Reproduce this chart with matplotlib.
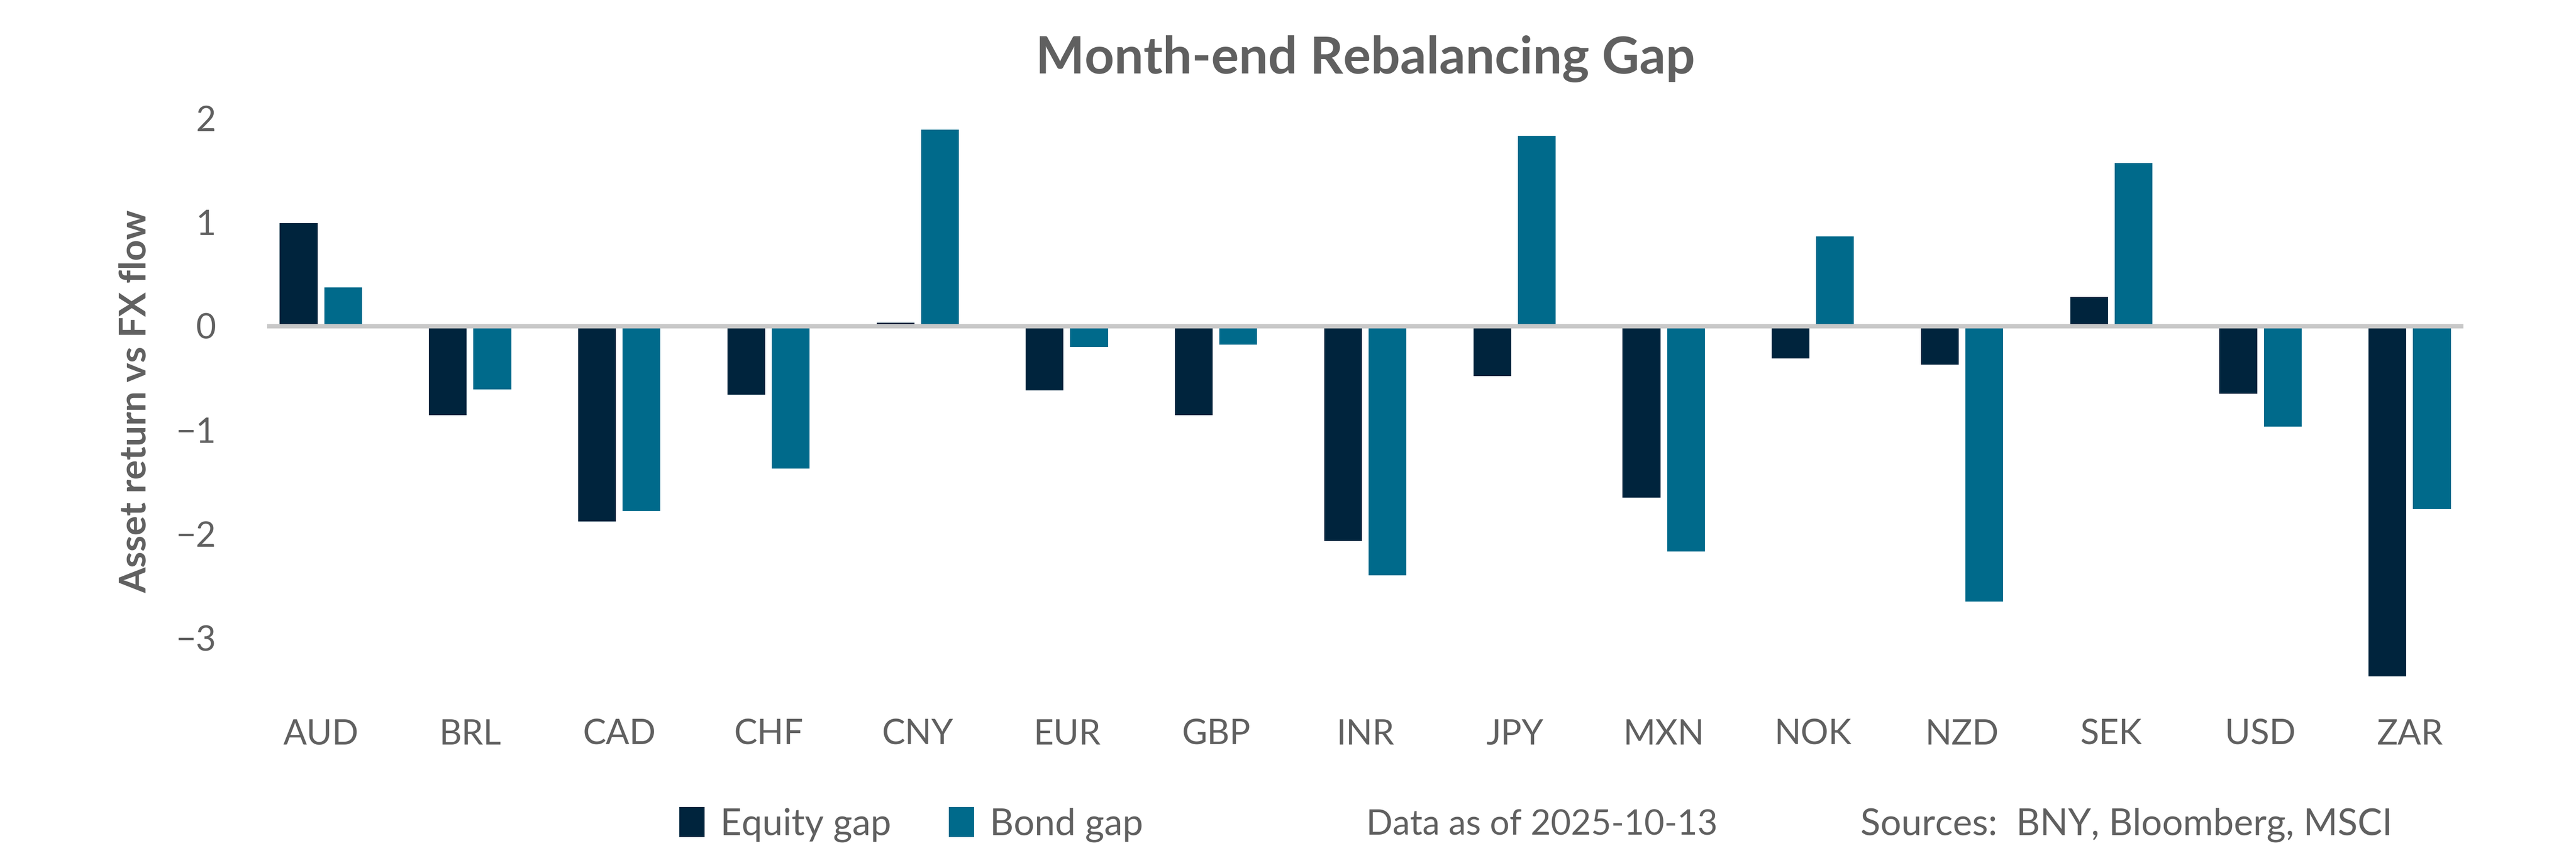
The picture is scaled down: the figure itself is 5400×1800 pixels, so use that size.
import numpy as np
import matplotlib
matplotlib.use("Agg")
import matplotlib.pyplot as plt

CURRENCIES = ["AUD", "BRL", "CAD", "CHF", "CNY", "EUR", "GBP", "INR",
              "JPY", "MXN", "NOK", "NZD", "SEK", "USD", "ZAR"]
EQUITY_GAP = [0.99, -0.86, -1.88, -0.66, 0.03, -0.62, -0.86, -2.07,
              -0.48, -1.65, -0.31, -0.37, 0.28, -0.65, -3.37]
BOND_GAP = [0.37, -0.61, -1.78, -1.37, 1.89, -0.20, -0.18, -2.40,
            1.83, -2.17, 0.86, -2.65, 1.57, -0.97, -1.76]
Y_TICKS = [-3, -2, -1, 0, 1, 2]

EQUITY_COLOR = "#00243D"
BOND_COLOR = "#006A8B"
TEXT_COLOR = "#606060"
ZERO_COLOR = "#C8C8C8"

plt.rcParams["font.family"] = ["Lato", "DejaVu Sans"]

fig = plt.figure(figsize=(18, 6), dpi=300)
ax = fig.add_axes([0.1037, 0.1961, 0.8526, 0.6722])

x = np.arange(len(CURRENCIES))
w = 0.253
off = 0.149
b1 = ax.bar(x - off, EQUITY_GAP, width=w, color=EQUITY_COLOR, label="Equity gap", zorder=2)
b2 = ax.bar(x + off, BOND_GAP, width=w, color=BOND_COLOR, label="Bond gap", zorder=2)
ax.axhline(0, color=ZERO_COLOR, lw=2.2, zorder=3)

ax.set_xlim(-0.36, len(CURRENCIES) - 1 + 0.36)
ax.set_ylim(-3.5, 2.05)
ax.set_xticks(x)
ax.set_xticklabels(CURRENCIES)
ax.set_yticks(Y_TICKS)
ax.set_yticklabels([str(t).replace("-", "\u2212") for t in Y_TICKS])
ax.tick_params(axis="x", length=0, pad=14.6, labelsize=17.5, labelcolor=TEXT_COLOR)
ax.tick_params(axis="y", length=0, pad=25.7, labelsize=17.5, labelcolor=TEXT_COLOR)
for s in ax.spines.values():
    s.set_visible(False)

fig.text(284 / 5400, 0.532, "Asset return vs FX flow", rotation=90,
         ha="center", va="center", fontsize=18.5, fontweight="bold",
         color=TEXT_COLOR)

# title sits centred over the plot area
fig.text(0.5300, 1 - 154 / 1800, "Month-end Rebalancing Gap",
         ha="center", va="baseline", fontsize=26, fontweight="bold",
         color=TEXT_COLOR)

fig.legend(handles=[b1, b2], loc="center left",
           bbox_to_anchor=(1424 / 5400, 1 - 1730 / 1800), ncol=2,
           frameon=False, fontsize=18.5, labelcolor=TEXT_COLOR,
           handlelength=0.69, handleheight=0.87, handletextpad=0.43,
           columnspacing=1.56, borderpad=0, borderaxespad=0)

fig.text(2864 / 5400, 1 - 1752 / 1800, "Data as of 2025-10-13",
         ha="left", va="baseline", fontsize=17.5, color=TEXT_COLOR)
fig.text(3900 / 5400, 1 - 1752 / 1800, "Sources:  BNY, Bloomberg, MSCI",
         ha="left", va="baseline", fontsize=18.5, color=TEXT_COLOR)

fig.savefig("out.png", dpi=300)
